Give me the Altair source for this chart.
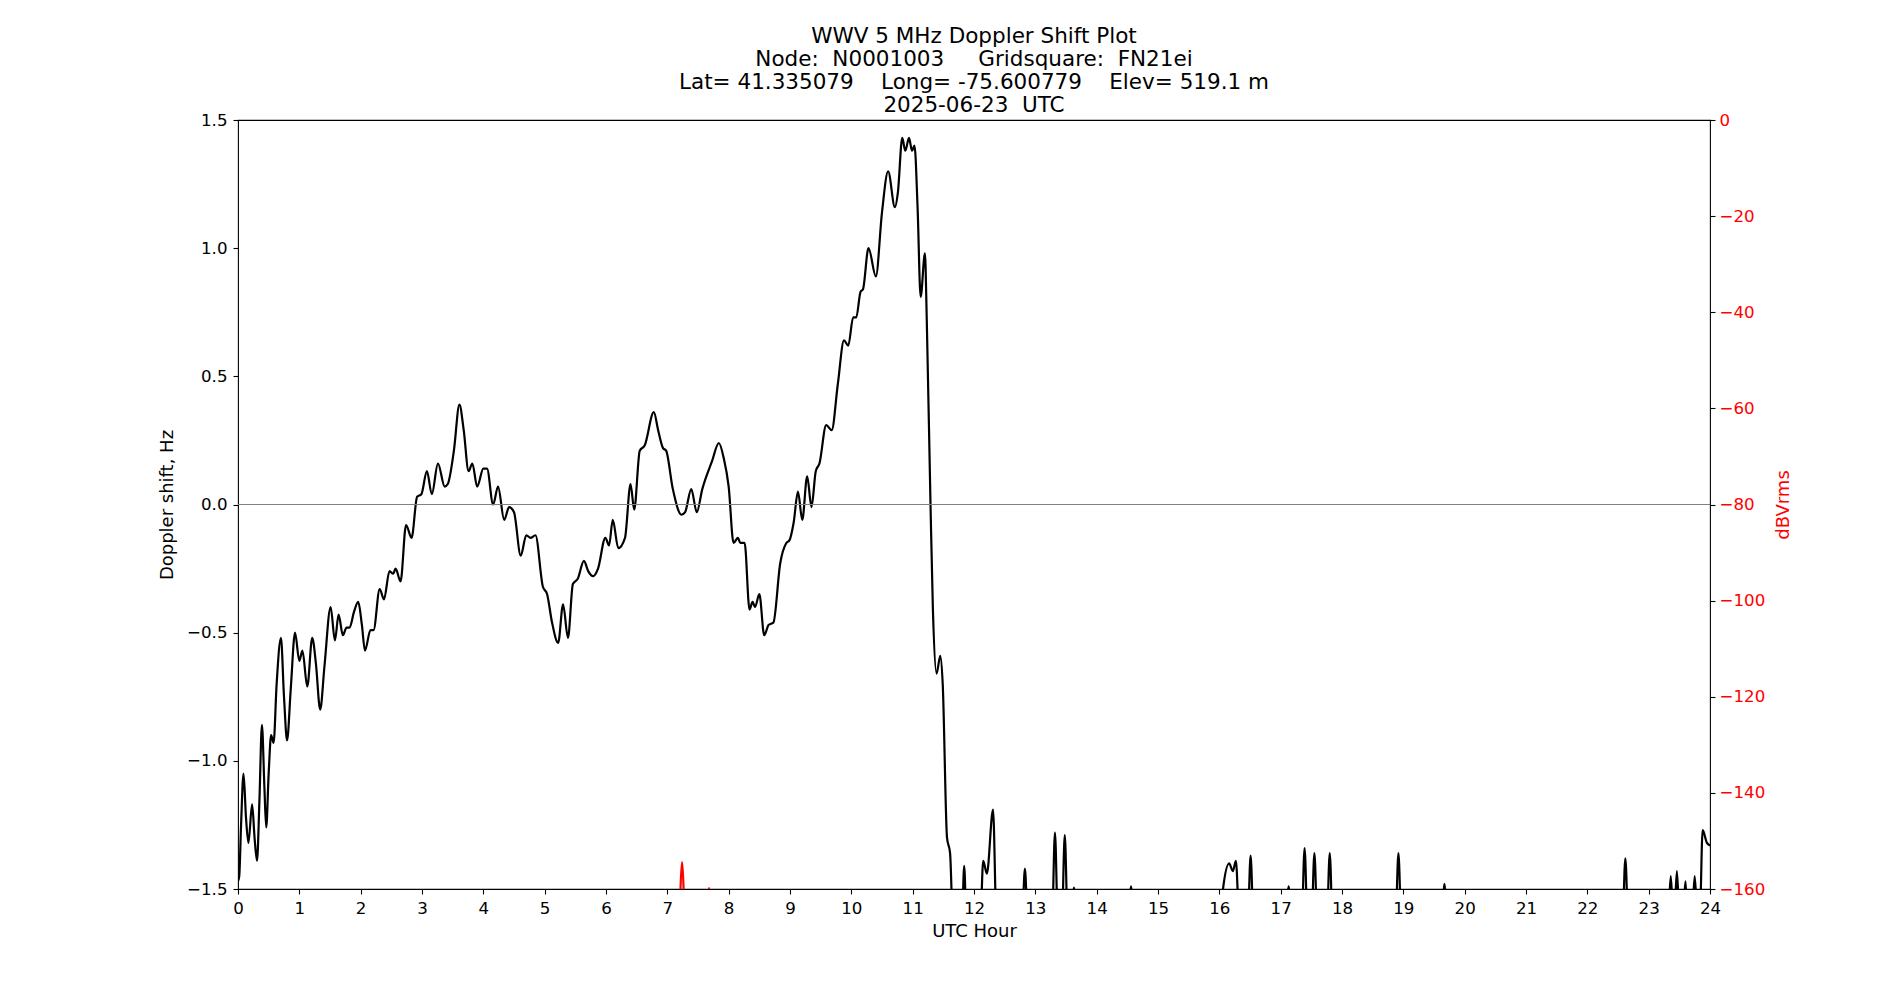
import altair as alt
import pandas as pd

# Doppler shift (black) – hours and Hz
hours_b = [
    0.00, 0.02, 0.05, 0.09, 0.13, 0.17, 0.23, 0.27, 0.31, 0.35, 0.39, 0.43, 0.46, 0.50,
    0.54, 0.58, 0.63, 0.70, 0.75, 0.80, 0.86, 0.93, 1.00, 1.05, 1.13, 1.21, 1.27, 1.34,
    1.41, 1.51, 1.58, 1.64, 1.71, 1.77, 1.82, 1.89, 1.96, 2.02, 2.07, 2.16, 2.21, 2.31,
    2.38, 2.47, 2.53, 2.57, 2.65, 2.74, 2.83, 2.92, 2.99, 3.08, 3.16, 3.26, 3.37, 3.42,
    3.52, 3.61, 3.68, 3.76, 3.82, 3.90, 4.00, 4.06, 4.16, 4.24, 4.34, 4.42, 4.50, 4.61,
    4.70, 4.77, 4.85, 4.97, 5.04, 5.12, 5.22, 5.30, 5.38, 5.46, 5.54, 5.64, 5.71, 5.79,
    5.87, 5.99, 6.05, 6.11, 6.20, 6.31, 6.40, 6.46, 6.55, 6.63, 6.78, 6.85, 6.93, 6.98,
    7.09, 7.23, 7.29, 7.39, 7.48, 7.57, 7.73, 7.84, 7.92, 8.00, 8.08, 8.15, 8.19, 8.26,
    8.34, 8.39, 8.43, 8.50, 8.58, 8.65, 8.73, 8.84, 8.94, 8.99, 9.06, 9.13, 9.20, 9.28,
    9.35, 9.42, 9.48, 9.59, 9.68, 9.78, 9.88, 9.95, 10.03, 10.08, 10.15, 10.19, 10.28,
    10.40, 10.50, 10.60, 10.71, 10.76, 10.83, 10.88, 10.94, 10.99, 11.03, 11.08, 11.13,
    11.20, 11.23, 11.29, 11.33, 11.39, 11.45, 11.49, 11.56, 11.61, 11.66,
    11.80, 11.84, 11.88, 12.10, 12.15, 12.21, 12.31, 12.37,
    12.78, 12.83, 12.88, 13.27, 13.32, 13.37, 13.43, 13.48, 13.53,
    13.60, 13.63, 13.66, 14.53, 14.56, 14.59,
    16.00, 16.06, 16.16, 16.22, 16.27, 16.33, 16.46, 16.51, 16.56,
    17.10, 17.13, 17.16, 17.34, 17.39, 17.44, 17.50, 17.55, 17.60, 17.75, 17.80, 17.85,
    18.87, 18.92, 18.97, 19.64, 19.67, 19.70, 22.57, 22.62, 22.67,
    23.32, 23.36, 23.40, 23.42, 23.46, 23.50, 23.56, 23.60, 23.63, 23.71, 23.75, 23.79,
    23.83, 23.88, 23.95, 24.00,
]
shift_hz = [
    -1.47, -1.45, -1.25, -1.05, -1.22, -1.32, -1.17, -1.30, -1.39, -1.15, -0.86, -1.10, -1.26, -1.05,
    -0.90, -0.93, -0.70, -0.52, -0.75, -0.92, -0.72, -0.50, -0.61, -0.57, -0.71, -0.52, -0.62, -0.80,
    -0.63, -0.40, -0.53, -0.43, -0.51, -0.48, -0.48, -0.42, -0.38, -0.47, -0.57, -0.49, -0.49, -0.33,
    -0.37, -0.26, -0.27, -0.25, -0.30, -0.08, -0.13, 0.03, 0.04, 0.13, 0.04, 0.16, 0.07, 0.08,
    0.21, 0.39, 0.29, 0.13, 0.16, 0.07, 0.14, 0.14, 0.00, 0.07, -0.06, -0.01, -0.03, -0.20,
    -0.12, -0.13, -0.12, -0.32, -0.35, -0.46, -0.54, -0.39, -0.52, -0.31, -0.29, -0.22, -0.26, -0.28,
    -0.25, -0.13, -0.16, -0.06, -0.17, -0.13, 0.08, -0.02, 0.21, 0.23, 0.36, 0.29, 0.22, 0.21,
    0.06, -0.04, -0.03, 0.06, -0.03, 0.06, 0.17, 0.24, 0.18, 0.07, -0.15, -0.13, -0.15, -0.15,
    -0.41, -0.38, -0.40, -0.35, -0.51, -0.47, -0.46, -0.23, -0.15, -0.14, -0.07, 0.05, -0.06, 0.11,
    -0.01, 0.13, 0.16, 0.31, 0.29, 0.47, 0.64, 0.62, 0.73, 0.73, 0.83, 0.84, 1.00,
    0.89, 1.14, 1.30, 1.16, 1.22, 1.43, 1.38, 1.43, 1.38, 1.40, 1.16, 0.81,
    0.98, 0.72, 0.01, -0.41, -0.66, -0.59, -0.70, -1.30, -1.36, -1.65,
    -1.65, -1.41, -1.65, -1.65, -1.39, -1.44, -1.19, -1.65,
    -1.65, -1.42, -1.65, -1.65, -1.28, -1.65, -1.65, -1.29, -1.65,
    -1.55, -1.495, -1.55, -1.55, -1.49, -1.55,
    -1.65, -1.50, -1.40, -1.43, -1.39, -1.65, -1.65, -1.37, -1.65,
    -1.55, -1.49, -1.55, -1.65, -1.34, -1.65, -1.65, -1.36, -1.65, -1.65, -1.36, -1.65,
    -1.65, -1.36, -1.65, -1.55, -1.48, -1.55, -1.65, -1.38, -1.65,
    -1.60, -1.45, -1.60, -1.60, -1.43, -1.60, -1.60, -1.47, -1.60, -1.60, -1.45, -1.60,
    -1.65, -1.27, -1.32, -1.33,
]

# Signal level (red) – hours and dBVrms, mostly below the -160 floor
hours_r = [0.00, 7.19, 7.215, 7.24, 7.265, 7.29, 7.66, 7.68, 7.70, 24.00]
level_db = [-175, -175, -160, -154.4, -160, -175, -162, -159.8, -162, -175]

x_ticks = list(range(0, 25))
y_ticks = [-1.5, -1.0, -0.5, 0.0, 0.5, 1.0, 1.5]
db_ticks = [-160, -140, -120, -100, -80, -60, -40, -20, 0]

title_lines = [
    "WWV 5 MHz Doppler Shift Plot",
    "Node:  N0001003     Gridsquare:  FN21ei",
    "Lat= 41.335079    Long= -75.600779    Elev= 519.1 m",
    "2025-06-23  UTC",
]
# keep the runs of spaces visible in SVG text
title_text = [t.replace("  ", "\u00a0\u00a0").replace("\u00a0 ", "\u00a0\u00a0") for t in title_lines]

df_b = pd.DataFrame({"hour": hours_b, "shift": shift_hz})
df_r = pd.DataFrame({"hour": hours_r, "db": level_db})

FONT = "DejaVu Sans"
minus_expr = "replace(datum.label, '-', '\u2212')"

x_enc = alt.X(
    "hour:Q",
    scale=alt.Scale(domain=[0, 24], nice=False, zero=False),
    axis=alt.Axis(
        values=x_ticks, format="d", title="UTC Hour", labelFlush=False,
        titleX=736, titleY=47, titleAlign="center", titleBaseline="alphabetic",
        labelPadding=6,
    ),
)

left_axis = alt.Axis(
    values=y_ticks, format=".1f", labelExpr=minus_expr,
    title="Doppler shift, Hz", orient="left", labelFlush=False,
    titleX=-71, titleY=384.5, titleAngle=270,
    titleAlign="center", titleBaseline="middle", labelPadding=6,
)
left_scale = alt.Scale(domain=[-1.5, 1.5], nice=False, zero=False)

black = alt.Chart(df_b).mark_line(
    color="black", strokeWidth=2.2, interpolate="monotone", clip=True
).encode(
    x=x_enc,
    y=alt.Y("shift:Q", scale=left_scale, axis=left_axis),
    order="hour:Q",
)

zero_rule = alt.Chart(pd.DataFrame({"shift": [0.0]})).mark_rule(
    color="#808080", strokeWidth=1
).encode(
    y=alt.Y("shift:Q", scale=left_scale, axis=left_axis)
)

left = alt.layer(black, zero_rule)

red = alt.Chart(df_r).mark_line(
    color="red", strokeWidth=2.2, interpolate="monotone", clip=True
).encode(
    x=alt.X("hour:Q", scale=alt.Scale(domain=[0, 24], nice=False, zero=False)),
    y=alt.Y(
        "db:Q",
        scale=alt.Scale(domain=[-160, 0], nice=False, zero=False),
        axis=alt.Axis(
            values=db_ticks, format="d", labelExpr=minus_expr, labelFlush=False,
            title="dBVrms", orient="right", labelColor="red", titleColor="red",
            titleX=73, titleY=384.5, titleAngle=270,
            titleAlign="center", titleBaseline="middle", labelPadding=4,
        ),
    ),
    order="hour:Q",
)

chart = alt.layer(left, red).resolve_scale(y="independent").properties(
    width=1472,
    height=769,
    autosize=alt.AutoSizeParams(type="none"),
    padding={"left": 230, "top": 112, "right": 182, "bottom": 90},
    title=alt.TitleParams(
        text=title_text, anchor="middle", frame="group", offset=-4.5,
        fontSize=21.5, font=FONT, fontWeight="normal", color="black",
        lineHeight=23,
    ),
).configure_view(
    stroke="black", strokeWidth=1.1
).configure_axis(
    labelFont=FONT, labelFontSize=16.67, labelColor="black",
    titleFont=FONT, titleFontSize=18, titleFontWeight="normal", titleColor="black",
    tickColor="black", tickSize=5, tickWidth=1.1, domain=False, grid=False,
)

chart.save("out.html", embed_options={"renderer": "svg", "actions": False})
